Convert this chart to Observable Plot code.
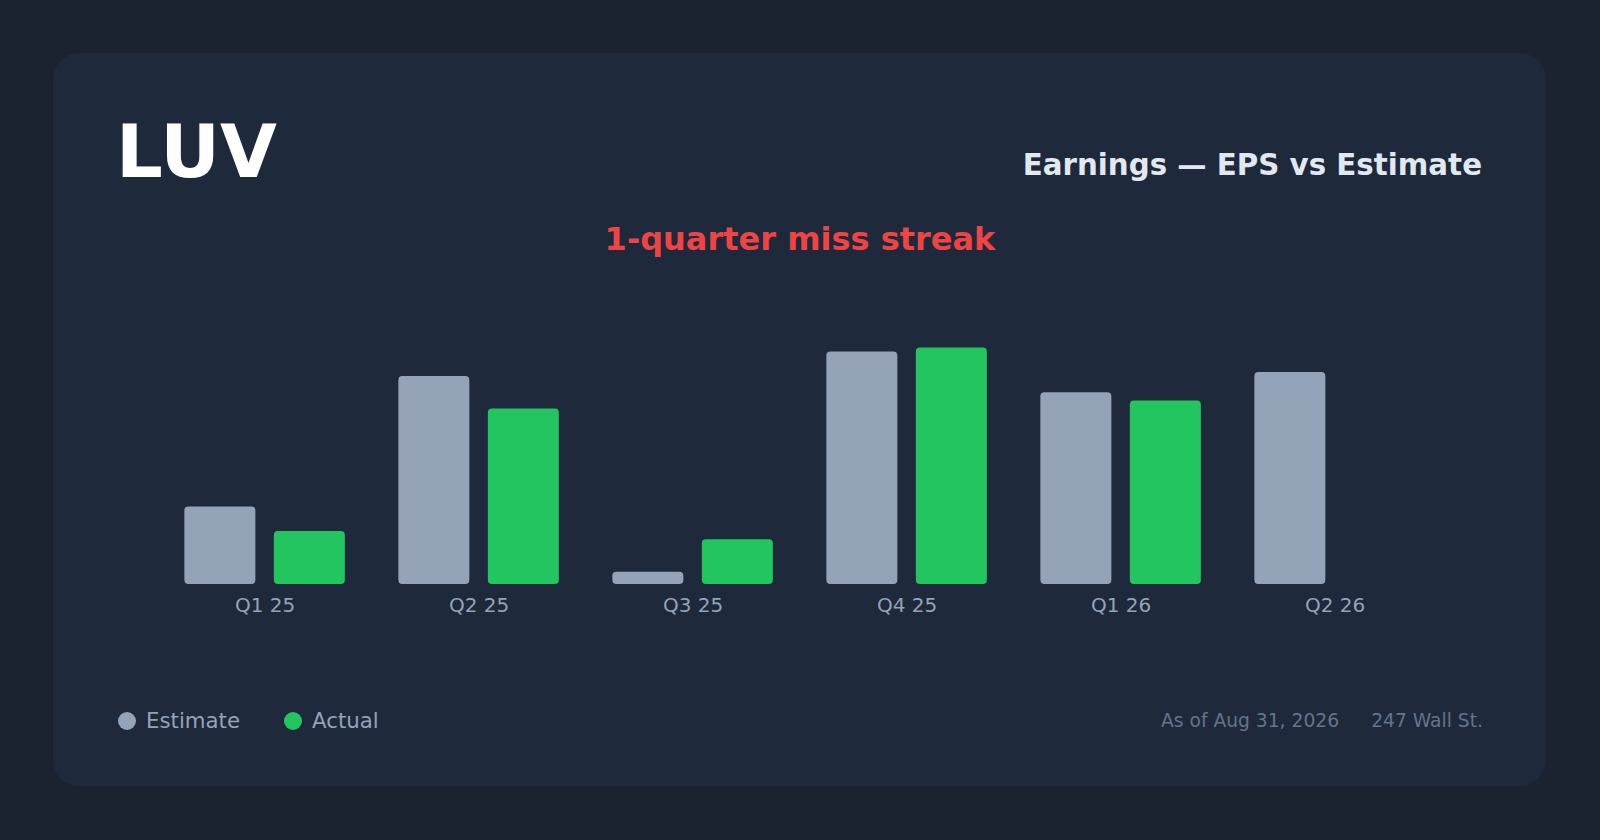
<!DOCTYPE html>
<html>
<head>
<meta charset="utf-8">
<script src="https://cdn.jsdelivr.net/npm/d3@7"></script>
<script src="https://cdn.jsdelivr.net/npm/@observablehq/plot@0.6"></script>
<style>
  html, body { margin: 0; padding: 0; background: #1b2230; }
  body { width: 1600px; height: 840px; position: relative; overflow: hidden; font-family: "DejaVu Sans", sans-serif; }
  .card { position: absolute; left: 53px; top: 53px; width: 1493px; height: 733px; background: #1e293b; border-radius: 26px; }
  .abs { position: absolute; line-height: 1; white-space: nowrap; }
  #ticker { left: 116px; top: 114.5px; font-size: 73.5px; font-weight: bold; color: #ffffff; }
  #title { right: 118px; top: 151.3px; font-size: 29.3px; font-weight: bold; color: #e2e8f0; }
  #streak { left: 0; width: 1600px; text-align: center; top: 223px; font-size: 32px; font-weight: bold; color: #ef4444; }
  #chart { position: absolute; left: 0; top: 280px; }
  .legend { top: 710px; font-size: 21.3px; color: #94a3b8; }
  .dot { position: absolute; width: 18px; height: 18px; border-radius: 50%; top: 711.8px; }
  .foot { top: 711.5px; font-size: 18.7px; color: #64748b; }
</style>
</head>
<body>
<div class="card"></div>
<div id="ticker" class="abs">LUV</div>
<div id="title" class="abs">Earnings — EPS vs Estimate</div>
<div id="streak" class="abs">1-quarter miss streak</div>
<div id="chart"></div>
<div class="dot" style="left:117.7px;background:#94a3b8"></div>
<div class="abs legend" style="left:146px">Estimate</div>
<div class="dot" style="left:284px;background:#22c55e"></div>
<div class="abs legend" style="left:312px">Actual</div>
<div class="abs foot" style="left:1161px">As of Aug 31, 2026</div>
<div class="abs foot" style="right:117px">247 Wall St.</div>
<script>
const quarters = ["Q1 25", "Q2 25", "Q3 25", "Q4 25", "Q1 26", "Q2 26"];
const estimates = [0.19, 0.51, 0.03, 0.57, 0.47, 0.52];
const actuals = [0.13, 0.43, 0.11, 0.58, 0.45, null];
const seriesNames = ["Estimate", "Actual"];
const seriesColors = ["#94a3b8", "#22c55e"];

const rows = [];
quarters.forEach((q, i) => {
  rows.push({quarter: q, series: "Estimate", value: estimates[i]});
  if (actuals[i] != null) rows.push({quarter: q, series: "Actual", value: actuals[i]});
});

const chart = Plot.plot({
  width: 1600,
  height: 360,
  marginTop: 18.5,
  marginBottom: 56,
  marginLeft: 157.6,
  marginRight: 158.4,
  style: {background: "transparent", fontFamily: "DejaVu Sans", color: "#94a3b8", overflow: "visible"},
  fx: {domain: quarters, padding: 0, round: false, label: null},
  x: {domain: seriesNames, paddingInner: 0.2067, paddingOuter: 0.2989, round: false, axis: null},
  y: {domain: [0, 0.7], axis: null},
  color: {domain: seriesNames, range: seriesColors},
  marks: [
    Plot.barY(rows, {fx: "quarter", x: "series", y: "value", fill: "series", rx: 4}),
    Plot.axisFx({anchor: "bottom", tickSize: 0, tickPadding: 13.5, fontSize: 20, label: null, fill: "#94a3b8"})
  ]
});
document.getElementById("chart").appendChild(chart);
</script>
</body>
</html>
